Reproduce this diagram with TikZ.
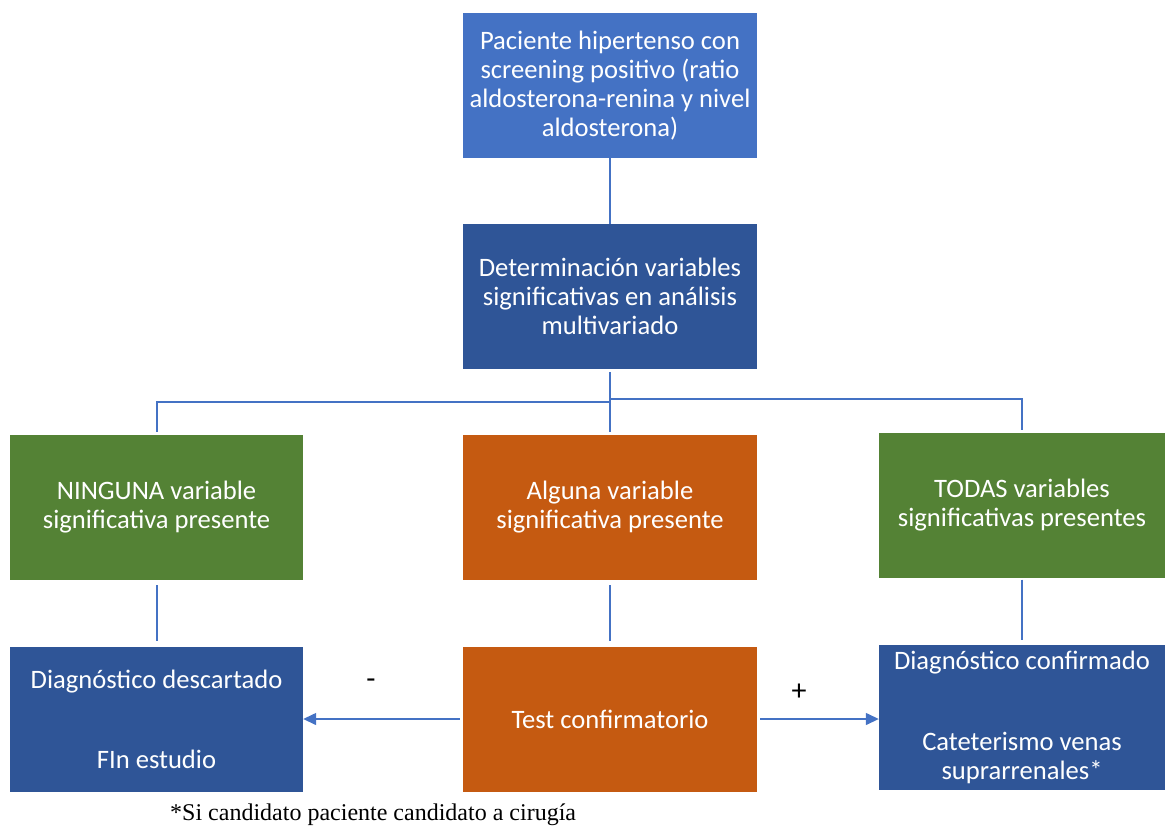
\documentclass[tikz,border=0pt]{standalone}
\usepackage{fontspec}
\setmainfont{Carlito}
\newfontfamily\timesfont{Liberation Serif}
\usetikzlibrary{arrows.meta}
\definecolor{lblue}{HTML}{4472C4}
\definecolor{dblue}{HTML}{2F5597}
\definecolor{dgreen}{HTML}{548235}
\definecolor{dorange}{HTML}{C55A11}
\begin{document}
\begin{tikzpicture}[x=1pt,y=-1pt,
  box/.style={draw=none,minimum width=294pt,minimum height=145pt,inner sep=0pt,
    text=white,align=center,font=\fontsize{26.6}{29}\selectfont},
  conn/.style={draw=lblue,line width=2pt},
  arr/.style={draw=lblue,line width=1.4pt,-{Triangle[length=13pt,width=12pt]}}]
\useasboundingbox (0,0) rectangle (1165,825);
\node[box,fill=lblue] (top) at (610,85.5) {Paciente hipertenso con\\screening positivo (ratio\\aldosterona-renina y nivel\\aldosterona)};
\node[box,fill=dblue] (det) at (610,296.5) {Determinación variables\\significativas en análisis\\multivariado};
\node[box,fill=dgreen,minimum width=293pt] (nin) at (156.5,507.5) {NINGUNA variable\\significativa presente};
\node[box,fill=dorange] (alg) at (610,507.5) {Alguna variable\\significativa presente};
\node[box,fill=dgreen,minimum width=286pt] (tod) at (1022,505) {TODAS variables\\significativas presentes};
\node[box,fill=dblue,minimum width=293pt] (desc) at (156.5,719) {Diagnóstico descartado\\[51pt]FIn estudio};
\node[box,fill=dorange] (test) at (610,719) {Test confirmatorio};
\node[box,fill=dblue,minimum width=286pt] (conf) at (1022,717.5) {Diagnóstico confirmado\\[52pt]Cateterismo venas\\suprarrenales*};
% connectors
\draw[conn] (top.south) -- (det.north);
\coordinate (d1) at (610,372);
\draw[conn] (d1) -- ([yshift=3pt]alg.north);
\draw[conn] (610,402) -| ([yshift=3pt]nin.north);
\draw[conn] (610,399) -| ([yshift=2pt]tod.north);
\draw[conn] ([yshift=-5pt]nin.south) -- ([yshift=5pt]desc.north);
\draw[conn] ([yshift=-5pt]alg.south) -- ([yshift=5pt]test.north);
\draw[conn] ([yshift=-2pt]tod.south) -- ([yshift=5pt]conf.north);
\draw[arr] ([xshift=-3pt]test.west) -- (test.west -| desc.east);
\draw[arr] ([xshift=3pt]test.east) -- (test.east -| conf.west);
\node[font=\fontsize{30}{32}\selectfont] (minus) at (371,684) {-};
\node[font=\fontsize{30}{32}\selectfont] (plus) at (799,692) {+};
\node[font=\timesfont\fontsize{24}{26}\selectfont,anchor=west,inner sep=0pt] (note) at (170,815) {*Si candidato paciente candidato a cirugía};
\end{tikzpicture}
\end{document}
